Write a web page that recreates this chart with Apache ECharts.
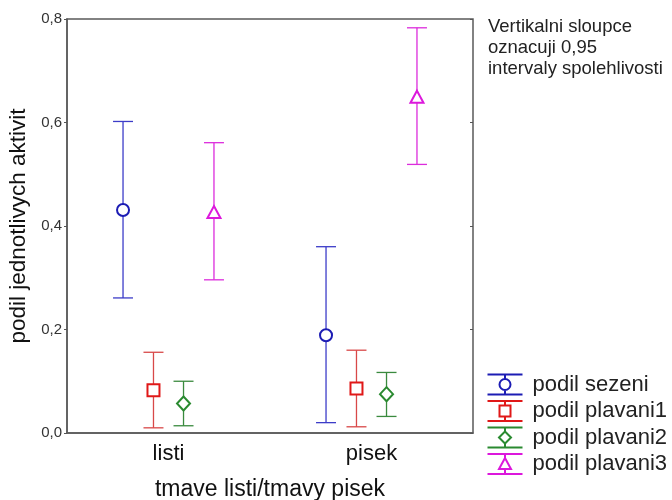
<!DOCTYPE html>
<html>
<head>
<meta charset="utf-8">
<style>
  html, body { margin: 0; padding: 0; background: #fff; }
  #chart { width: 672px; height: 500px; }
</style>
<script src="https://cdn.jsdelivr.net/npm/echarts@6/dist/echarts.min.js"></script>
</head>
<body>
<div id="chart"></div>
<script>
const categories = ["listi", "pisek"];
const seriesNames = ["podil sezeni", "podil plavani1", "podil plavani2", "podil plavani3"];

// means and 0,95 confidence limits, per category
const sezeniMean = [0.431, 0.189];
const sezeniLow = [0.261, 0.020];
const sezeniHigh = [0.602, 0.360];

const plavani1Mean = [0.0825, 0.086];
const plavani1Low = [0.010, 0.012];
const plavani1High = [0.156, 0.160];

const plavani2Mean = [0.057, 0.075];
const plavani2Low = [0.014, 0.032];
const plavani2High = [0.100, 0.117];

const plavani3Mean = [0.425, 0.648];
const plavani3Low = [0.296, 0.519];
const plavani3High = [0.561, 0.783];

const yTicks = [0, 0.2, 0.4, 0.6, 0.8];

const groups = [
  [sezeniMean, sezeniLow, sezeniHigh],
  [plavani1Mean, plavani1Low, plavani1High],
  [plavani2Mean, plavani2Low, plavani2High],
  [plavani3Mean, plavani3Low, plavani3High]
];

const lineColors = ["#3c3cc8", "#d84848", "#3a8a3e", "#dc2cdc"];
const markColors = ["#1c1cb4", "#e01818", "#2a8a30", "#dc18dc"];
const shapes = ["circle", "square", "diamond", "triangle"];
const offsets = [-0.224, -0.074, 0.074, 0.224];

const FONT = "'Liberation Sans', Arial, sans-serif";

function markerShape(kind, x, y, color) {
  const style = { fill: "#fff", stroke: color, lineWidth: 2 };
  if (kind === "circle") return { type: "circle", shape: { cx: x, cy: y, r: 6 }, style };
  if (kind === "square") return { type: "rect", shape: { x: x - 6, y: y - 6, width: 12, height: 12 }, style };
  if (kind === "diamond") {
    return { type: "polygon", shape: { points: [[x, y - 7], [x + 6.5, y], [x, y + 7], [x - 6.5, y]] }, style };
  }
  return { type: "polygon", shape: { points: [[x, y - 7], [x + 6.5, y + 5], [x - 6.5, y + 5]] }, style };
}

function makeRender(i) {
  return function (params, api) {
    const cat = api.value(0);
    const band = api.size([1, 0])[0];
    const pMean = api.coord([cat, api.value(1)]);
    const pLow = api.coord([cat, api.value(2)]);
    const pHigh = api.coord([cat, api.value(3)]);
    const x = pMean[0] + offsets[i] * band;
    const line = { stroke: lineColors[i], lineWidth: 1.3 };
    return {
      type: "group",
      children: [
        { type: "line", shape: { x1: x, y1: pHigh[1], x2: x, y2: pLow[1] }, style: line },
        { type: "line", shape: { x1: x - 10, y1: pHigh[1], x2: x + 10, y2: pHigh[1] }, style: line },
        { type: "line", shape: { x1: x - 10, y1: pLow[1], x2: x + 10, y2: pLow[1] }, style: line },
        markerShape(shapes[i], x, pMean[1], markColors[i])
      ]
    };
  };
}

// legend icons: two caps, a stem and the hollow marker, in a 35x20 box
const iconPaths = [
  "path://M0,0 L35,0 M17.5,0 L17.5,4.5 M12,10 A5.5,5.5 0 1 1 23,10 A5.5,5.5 0 1 1 12,10 M17.5,15.5 L17.5,20 M0,20 L35,20",
  "path://M0,0 L35,0 M17.5,0 L17.5,4.5 M12,4.5 L23,4.5 L23,15.5 L12,15.5 Z M17.5,15.5 L17.5,20 M0,20 L35,20",
  "path://M0,0 L35,0 M17.5,0 L17.5,4 L23.5,10 L17.5,16 L11.5,10 L17.5,4 M17.5,16 L17.5,20 M0,20 L35,20",
  "path://M0,0 L35,0 M17.5,0 L17.5,4 L23.5,15 L11.5,15 L17.5,4 M17.5,15 L17.5,20 M0,20 L35,20"
];

const chart = echarts.init(document.getElementById("chart"), null, { renderer: "canvas" });

chart.setOption({
  backgroundColor: "#fff",
  animation: false,
  textStyle: { fontFamily: FONT },
  title: {
    text: "Vertikalni sloupce\noznacuji 0,95\nintervaly spolehlivosti",
    left: 488,
    top: 16,
    padding: 0,
    textStyle: { fontFamily: FONT, fontSize: 18.5, lineHeight: 21, fontWeight: "normal", color: "#222" }
  },
  grid: {
    left: 67, right: 199, top: 19, bottom: 67,
    outerBoundsMode: "none",
    show: true, borderColor: "#5a5a5a", borderWidth: 1.5
  },
  legend: {
    orient: "vertical",
    left: 485,
    top: 372,
    padding: 0,
    itemWidth: 35,
    itemHeight: 20,
    itemGap: 1.5,
    textStyle: { fontFamily: FONT, fontSize: 22, color: "#222", padding: [0, 0, 0, 5] },
    data: seriesNames.map((name, i) => ({
      name,
      icon: iconPaths[i],
      itemStyle: { color: "none", borderColor: markColors[i], borderWidth: 2 }
    }))
  },
  xAxis: [
    {
      type: "category",
      data: categories,
      boundaryGap: true,
      position: "bottom",
      axisLine: { lineStyle: { color: "#5a5a5a", width: 1.5 } },
      axisTick: { inside: true, alignWithLabel: true, length: 3, lineStyle: { color: "#555" } },
      axisLabel: { fontFamily: FONT, fontSize: 22, color: "#111", margin: 10 },
      name: "tmave listi/tmavy pisek",
      nameLocation: "middle",
      nameGap: 45,
      nameTextStyle: { fontFamily: FONT, fontSize: 23, color: "#111" }
    },
    {
      type: "category",
      data: categories,
      boundaryGap: true,
      position: "top",
      axisLine: { show: false },
      axisTick: { inside: true, alignWithLabel: true, length: 3, lineStyle: { color: "#555" } },
      axisLabel: { show: false }
    }
  ],
  yAxis: [
    {
      type: "value",
      min: yTicks[0],
      max: yTicks[yTicks.length - 1],
      interval: 0.2,
      axisLine: { show: true, lineStyle: { color: "#5a5a5a", width: 1.5 } },
      axisTick: { show: true, length: 3, lineStyle: { color: "#555" } },
      splitLine: { show: false },
      axisLabel: {
        fontFamily: FONT, fontSize: 15, color: "#333", margin: 5,
        formatter: (v) => v.toFixed(1).replace(".", ",")
      },
      name: "podil jednotlivych aktivit",
      nameLocation: "middle",
      nameGap: 35,
      nameTextStyle: { fontFamily: FONT, fontSize: 22.5, color: "#111" }
    },
    {
      type: "value",
      position: "right",
      min: yTicks[0],
      max: yTicks[yTicks.length - 1],
      interval: 0.2,
      axisLine: { show: false },
      axisTick: { show: true, inside: true, length: 3, lineStyle: { color: "#555" } },
      splitLine: { show: false },
      axisLabel: { show: false }
    }
  ],
  series: groups.map(([mean, low, high], i) => ({
    name: seriesNames[i],
    type: "custom",
    xAxisIndex: 0,
    yAxisIndex: 0,
    itemStyle: { color: markColors[i] },
    renderItem: makeRender(i),
    encode: { x: 0, y: [1, 2, 3] },
    data: categories.map((c, k) => [k, mean[k], low[k], high[k]])
  }))
});
</script>
</body>
</html>
